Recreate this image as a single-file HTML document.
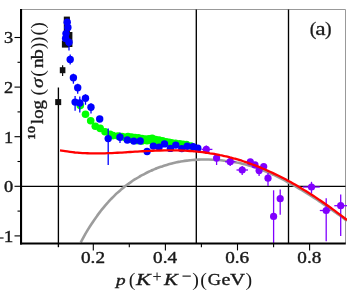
<!DOCTYPE html>
<html><head><meta charset="utf-8"><title>chart</title>
<style>
html,body{margin:0;padding:0;background:#fff;}
body{width:347px;height:292px;overflow:hidden;font-family:"Liberation Serif",serif;}
svg{display:block;will-change:transform;}
text{font-family:"Liberation Serif",serif;fill:#1a1a1a;}
</style></head><body>
<svg width="347" height="292" viewBox="0 0 347 292">
<rect width="347" height="292" fill="#fff"/>
<path d="M21,9.5H345.5V243" fill="none" stroke="#999" stroke-width="1"/>
<g stroke="#000" stroke-width="1.35" fill="none">
<path d="M21,186.4H345.5"/>
<path d="M58.4,87.5V247.2"/>
<path d="M196.3,9.5V243"/>
<path d="M288.5,9.5V243"/>
</g>
<path d="M80.7,242.4 C81.4,241.2 83.4,237.5 84.7,235.1 C86.0,232.8 87.4,230.6 88.7,228.4 C90.0,226.2 91.4,224.2 92.7,222.2 C94.0,220.2 95.4,218.2 96.7,216.4 C98.0,214.5 99.4,212.7 100.7,211.0 C102.0,209.3 103.4,207.7 104.7,206.1 C106.0,204.5 107.4,203.0 108.7,201.5 C110.0,200.1 111.4,198.7 112.7,197.3 C114.0,196.0 115.4,194.7 116.7,193.4 C118.0,192.2 119.4,191.0 120.7,189.9 C122.0,188.7 123.4,187.6 124.7,186.6 C126.0,185.5 127.4,184.5 128.7,183.6 C130.0,182.6 131.4,181.7 132.7,180.8 C134.0,179.9 135.4,179.1 136.7,178.3 C138.0,177.4 139.4,176.7 140.7,175.9 C142.0,175.2 143.4,174.5 144.7,173.8 C146.0,173.1 147.4,172.4 148.7,171.8 C150.0,171.2 151.4,170.6 152.7,170.0 C154.0,169.4 155.4,168.9 156.7,168.3 C158.0,167.8 159.4,167.3 160.7,166.8 C162.0,166.4 163.4,165.9 164.7,165.5 C166.0,165.1 167.4,164.7 168.7,164.3 C170.0,163.9 171.4,163.6 172.7,163.2 C174.0,162.9 175.4,162.6 176.7,162.3 C178.0,162.0 179.4,161.8 180.7,161.5 C182.0,161.3 183.4,161.1 184.7,160.9 C186.0,160.7 187.4,160.5 188.7,160.4 C190.0,160.2 191.4,160.1 192.7,160.0 C194.0,159.9 195.4,159.8 196.7,159.7 C198.0,159.6 199.4,159.6 200.7,159.5 C202.0,159.5 203.4,159.5 204.7,159.5 C206.0,159.5 207.4,159.5 208.7,159.5 C210.0,159.5 211.4,159.6 212.7,159.7 C214.0,159.7 215.4,159.8 216.7,159.9 C218.0,160.0 219.4,160.1 220.7,160.2 C222.0,160.4 223.4,160.5 224.7,160.7 C226.0,160.8 227.4,161.0 228.7,161.2 C230.0,161.4 231.4,161.6 232.7,161.8 C234.0,162.0 235.4,162.2 236.7,162.5 C238.0,162.7 239.4,163.0 240.7,163.3 C242.0,163.6 243.4,163.9 244.7,164.3 C246.0,164.6 247.4,165.0 248.7,165.4 C250.0,165.7 251.4,166.1 252.7,166.6 C254.0,167.0 255.4,167.4 256.7,167.9 C258.0,168.4 259.4,168.9 260.7,169.4 C262.0,169.9 263.4,170.4 264.7,171.0 C266.0,171.5 267.4,172.1 268.7,172.7 C270.0,173.3 271.4,173.9 272.7,174.5 C274.0,175.1 275.4,175.7 276.7,176.4 C278.0,177.0 279.4,177.7 280.7,178.4 C282.0,179.0 283.4,179.7 284.7,180.4 C286.0,181.1 287.4,181.9 288.7,182.6 C290.0,183.3 291.4,184.1 292.7,184.8 C294.0,185.6 295.4,186.3 296.7,187.1 C298.0,187.9 299.4,188.7 300.7,189.5 C302.0,190.3 303.4,191.1 304.7,191.9 C306.0,192.7 307.4,193.6 308.7,194.4 C310.0,195.2 311.4,196.1 312.7,196.9 C314.0,197.8 315.4,198.7 316.7,199.5 C318.0,200.4 319.4,201.3 320.7,202.2 C322.0,203.1 323.4,204.0 324.7,204.9 C326.0,205.8 327.4,206.7 328.7,207.7 C330.0,208.6 331.4,209.5 332.7,210.5 C334.0,211.4 335.4,212.4 336.7,213.3 C338.0,214.3 339.4,215.2 340.7,216.2 C342.0,217.2 343.6,218.3 344.7,219.1 C345.8,219.9 346.6,220.5 347.0,220.8" fill="none" stroke="#9c9c9c" stroke-width="2.6"/>
<g fill="#00ff00">
<circle cx="80.3" cy="105.6" r="3.8"/>
<circle cx="85.5" cy="114.2" r="3.8"/>
<circle cx="90.7" cy="120.8" r="3.8"/>
<circle cx="95.3" cy="126.3" r="3.8"/>
<circle cx="100.2" cy="128.4" r="3.8"/>
<circle cx="105.0" cy="131.8" r="3.8"/>
<circle cx="110.0" cy="134.2" r="3.8"/>
<circle cx="113.0" cy="135.6" r="3.8"/>
<circle cx="118.0" cy="136.0" r="3.8"/>
<circle cx="124.6" cy="137.3" r="3.8"/>
<circle cx="128.0" cy="136.6" r="3.8"/>
<circle cx="131.5" cy="137.0" r="3.8"/>
<circle cx="135.0" cy="137.6" r="3.8"/>
<circle cx="138.4" cy="137.8" r="3.8"/>
<circle cx="142.0" cy="138.6" r="3.8"/>
<circle cx="145.3" cy="139.0" r="3.8"/>
<circle cx="149.0" cy="138.8" r="3.8"/>
<circle cx="152.2" cy="138.4" r="3.8"/>
<circle cx="155.5" cy="139.6" r="3.8"/>
<circle cx="159.0" cy="140.0" r="3.8"/>
<circle cx="162.5" cy="140.8" r="3.8"/>
<circle cx="166.0" cy="141.7" r="3.8"/>
<circle cx="169.0" cy="142.4" r="3.8"/>
<circle cx="171.5" cy="142.8" r="3.8"/>
<circle cx="175.5" cy="143.4" r="3.8"/>
<circle cx="179.6" cy="143.8" r="3.8"/>
<circle cx="183.0" cy="144.2" r="3.8"/>
<circle cx="186.5" cy="144.6" r="3.8"/>
<circle cx="191.0" cy="146.0" r="3.8"/>
<circle cx="122.0" cy="136.5" r="3.8"/>
<circle cx="127.0" cy="138.5" r="3.8"/>
<circle cx="132.0" cy="139.5" r="3.8"/>
<circle cx="137.0" cy="140.6" r="3.8"/>
<circle cx="142.0" cy="140.9" r="3.8"/>
<circle cx="147.0" cy="140.8" r="3.8"/>
<circle cx="152.0" cy="141.0" r="3.8"/>
<circle cx="157.0" cy="142.0" r="3.8"/>
<circle cx="162.0" cy="143.0" r="3.8"/>
</g>
<g fill="#111">
<rect x="63.8" y="16.6" width="6.1" height="24"/>
<rect x="66" y="32" width="6.4" height="15"/>
<rect x="61.9" y="40.6" width="7" height="7"/>
<rect x="59.8" y="67.2" width="5.6" height="6"/>
<rect x="55.2" y="99.1" width="6" height="6"/>
</g>
<path d="M62.6,65.2V76" stroke="#111" stroke-width="1.2"/>
<g stroke="#0000ff" stroke-width="1.3">
<path d="M69.0,42.2V50.5"/>
<path d="M70.2,54.5V64.5"/>
<path d="M73.4,73.7V83.7"/>
<path d="M77.7,83.7V93.7"/>
<path d="M85.5,94.3V104.8"/>
<path d="M75.1,96.1V110.8"/>
<path d="M79.8,96.5V112.5"/>
<path d="M91.0,103.3V113.5"/>
<path d="M108.2,128.4V165.0"/>
<path d="M120.0,132.6V143.0"/>
</g><g fill="#0000ff">
<circle cx="67.2" cy="22.3" r="3.7"/>
<circle cx="67.9" cy="27.5" r="3.7"/>
<circle cx="66.0" cy="33.6" r="3.7"/>
<circle cx="65.6" cy="38.4" r="3.7"/>
<circle cx="69.0" cy="42.2" r="3.7"/>
<circle cx="70.2" cy="59.5" r="3.7"/>
<circle cx="73.4" cy="77.7" r="3.7"/>
<circle cx="77.7" cy="87.7" r="3.7"/>
<circle cx="85.5" cy="98.3" r="3.7"/>
<circle cx="75.1" cy="102.1" r="3.7"/>
<circle cx="79.8" cy="103.0" r="3.7"/>
<circle cx="91.0" cy="107.3" r="3.7"/>
<circle cx="99.7" cy="119.0" r="3.7"/>
<circle cx="108.2" cy="138.6" r="3.7"/>
<circle cx="120.0" cy="137.2" r="3.7"/>
<circle cx="127.3" cy="140.0" r="3.7"/>
<circle cx="133.8" cy="141.1" r="3.7"/>
<circle cx="140.2" cy="141.0" r="3.7"/>
<circle cx="147.1" cy="151.5" r="3.7"/>
<circle cx="153.3" cy="146.1" r="3.7"/>
<circle cx="159.1" cy="147.1" r="3.7"/>
<circle cx="164.5" cy="143.9" r="3.7"/>
<circle cx="170.4" cy="148.4" r="3.7"/>
<circle cx="175.8" cy="145.1" r="3.7"/>
<circle cx="181.8" cy="148.6" r="3.7"/>
<circle cx="187.2" cy="146.2" r="3.7"/>
<circle cx="193.1" cy="146.8" r="3.7"/>
<circle cx="197.8" cy="148.2" r="3.7"/>
</g>
<g stroke="#8000ff" stroke-width="1.3">
<path d="M201.5,149.4H212.4"/>
<path d="M206.3,145.5V154.0"/>
<path d="M216.6,154.0V165.0"/>
<path d="M225.0,161.7H235.5"/>
<path d="M230.2,158.0V166.0"/>
<path d="M236.5,170.0H248.0"/>
<path d="M242.2,166.0V175.0"/>
<path d="M259.1,166.0V176.0"/>
<path d="M268.0,173.0V186.0"/>
<path d="M273.6,190.3V243.5"/>
<path d="M280.2,189.5V214.7"/>
<path d="M302.8,187.0H319.8"/>
<path d="M311.5,181.8V193.6"/>
<path d="M319.8,210.5H330.5"/>
<path d="M326.2,198.2V241.2"/>
<path d="M334.3,205.7H347.0"/>
<path d="M340.7,194.4V236.0"/>
</g><g fill="#8000ff">
<circle cx="206.3" cy="149.4" r="3.6"/>
<circle cx="216.6" cy="158.1" r="3.6"/>
<circle cx="230.2" cy="161.7" r="3.6"/>
<circle cx="242.2" cy="170.0" r="3.6"/>
<circle cx="250.3" cy="161.9" r="3.6"/>
<circle cx="255.0" cy="164.9" r="3.6"/>
<circle cx="259.1" cy="170.6" r="3.6"/>
<circle cx="263.7" cy="166.5" r="3.6"/>
<circle cx="268.0" cy="178.2" r="3.6"/>
<circle cx="273.6" cy="216.4" r="3.6"/>
<circle cx="280.2" cy="198.7" r="3.6"/>
<circle cx="311.5" cy="187.0" r="3.6"/>
<circle cx="326.2" cy="210.5" r="3.6"/>
<circle cx="340.7" cy="205.7" r="3.6"/>
</g>
<path d="M60.0,150.4 C60.8,150.5 63.3,151.0 65.0,151.2 C66.7,151.5 68.3,151.7 70.0,151.9 C71.7,152.1 73.3,152.3 75.0,152.5 C76.7,152.6 78.3,152.8 80.0,152.9 C81.7,153.0 83.3,153.1 85.0,153.2 C86.7,153.2 88.3,153.3 90.0,153.3 C91.7,153.4 93.3,153.4 95.0,153.4 C96.7,153.4 98.3,153.4 100.0,153.4 C101.7,153.4 103.3,153.3 105.0,153.3 C106.7,153.2 108.3,153.2 110.0,153.1 C111.7,153.1 113.3,153.0 115.0,152.9 C116.7,152.8 118.3,152.7 120.0,152.6 C121.7,152.6 123.3,152.5 125.0,152.4 C126.7,152.3 128.3,152.1 130.0,152.0 C131.7,151.9 133.3,151.8 135.0,151.7 C136.7,151.6 138.3,151.5 140.0,151.4 C141.7,151.3 143.3,151.2 145.0,151.1 C146.7,151.0 148.3,150.9 150.0,150.9 C151.7,150.8 153.3,150.7 155.0,150.6 C156.7,150.6 158.3,150.5 160.0,150.5 C161.7,150.4 163.3,150.4 165.0,150.4 C166.7,150.4 168.3,150.3 170.0,150.3 C171.7,150.3 173.3,150.4 175.0,150.4 C176.7,150.4 178.3,150.5 180.0,150.5 C181.7,150.6 183.3,150.6 185.0,150.7 C186.7,150.8 188.3,150.9 190.0,151.0 C191.7,151.1 193.3,151.3 195.0,151.4 C196.7,151.6 198.3,151.7 200.0,151.9 C201.7,152.1 203.3,152.3 205.0,152.5 C206.7,152.8 208.3,153.0 210.0,153.3 C211.7,153.5 213.3,153.8 215.0,154.1 C216.7,154.4 218.3,154.7 220.0,155.1 C221.7,155.4 223.3,155.8 225.0,156.2 C226.7,156.5 228.3,156.9 230.0,157.4 C231.7,157.8 233.3,158.3 235.0,158.7 C236.7,159.2 238.3,159.7 240.0,160.2 C241.7,160.7 243.3,161.3 245.0,161.8 C246.7,162.4 248.3,163.0 250.0,163.6 C251.7,164.2 253.3,164.8 255.0,165.4 C256.7,166.1 258.3,166.7 260.0,167.4 C261.7,168.1 263.3,168.8 265.0,169.5 C266.7,170.2 268.3,171.0 270.0,171.7 C271.7,172.5 273.3,173.3 275.0,174.1 C276.7,174.9 278.3,175.7 280.0,176.5 C281.7,177.4 283.3,178.2 285.0,179.1 C286.7,180.0 288.3,180.9 290.0,181.8 C291.7,182.7 293.3,183.7 295.0,184.6 C296.7,185.6 298.3,186.5 300.0,187.5 C301.7,188.5 303.3,189.5 305.0,190.6 C306.7,191.6 308.3,192.6 310.0,193.7 C311.7,194.8 313.3,195.8 315.0,196.9 C316.7,198.0 318.3,199.2 320.0,200.3 C321.7,201.4 323.3,202.6 325.0,203.7 C326.7,204.9 328.3,206.1 330.0,207.3 C331.7,208.5 333.3,209.7 335.0,210.9 C336.7,212.2 338.3,213.4 340.0,214.7 C341.7,216.0 343.8,217.6 345.0,218.5 C346.2,219.4 346.7,219.8 347.0,220.1" fill="none" stroke="#ff0000" stroke-width="2.3"/>
<g stroke="#000" fill="none">
<path d="M21.05,9V244.5" stroke-width="2.1"/>
<path d="M20,243.45H345.8" stroke-width="2.0"/>
<path d="M14.5,235.9H21" stroke-width="1.1"/>
<path d="M14.5,186.3H21" stroke-width="1.1"/>
<path d="M14.5,136.7H21" stroke-width="1.1"/>
<path d="M14.5,87.1H21" stroke-width="1.1"/>
<path d="M14.5,37.5H21" stroke-width="1.1"/>
<path d="M17.5,211.1H21" stroke-width="1.1"/>
<path d="M17.5,161.5H21" stroke-width="1.1"/>
<path d="M17.5,111.9H21" stroke-width="1.1"/>
<path d="M17.5,62.3H21" stroke-width="1.1"/>
<path d="M93.3,243V250.4" stroke-width="1.1"/>
<path d="M165.4,243V250.4" stroke-width="1.1"/>
<path d="M237.5,243V250.4" stroke-width="1.1"/>
<path d="M309.6,243V250.4" stroke-width="1.1"/>
<path d="M129.3,243V247.2" stroke-width="1.1"/>
<path d="M201.4,243V247.2" stroke-width="1.1"/>
<path d="M273.6,243V247.2" stroke-width="1.1"/>
</g>
<text transform="translate(8.70,43.40) scale(1.150,1)" font-size="16" text-anchor="middle" stroke="#1a1a1a" stroke-width="0.4">3</text>
<text transform="translate(8.70,93.00) scale(1.150,1)" font-size="16" text-anchor="middle" stroke="#1a1a1a" stroke-width="0.4">2</text>
<text transform="translate(8.70,142.60) scale(1.150,1)" font-size="16" text-anchor="middle" stroke="#1a1a1a" stroke-width="0.4">1</text>
<text transform="translate(8.70,192.20) scale(1.150,1)" font-size="16" text-anchor="middle" stroke="#1a1a1a" stroke-width="0.4">0</text>
<text transform="translate(8.60,241.80) scale(1.200,1)" font-size="16" text-anchor="middle" stroke="#1a1a1a" stroke-width="0.4">1</text>
<path d="M0,238.0H3.6" stroke="#1a1a1a" stroke-width="1.2"/>
<text transform="translate(93.00,263.10) scale(1.200,1)" font-size="16" text-anchor="middle" stroke="#1a1a1a" stroke-width="0.4">0.2</text>
<text transform="translate(165.10,263.10) scale(1.200,1)" font-size="16" text-anchor="middle" stroke="#1a1a1a" stroke-width="0.4">0.4</text>
<text transform="translate(237.20,263.10) scale(1.200,1)" font-size="16" text-anchor="middle" stroke="#1a1a1a" stroke-width="0.4">0.6</text>
<text transform="translate(309.30,263.10) scale(1.200,1)" font-size="16" text-anchor="middle" stroke="#1a1a1a" stroke-width="0.4">0.8</text>
<text transform="translate(120.90,285.20) scale(1.280,1)" font-size="15" text-anchor="middle" font-style="italic" stroke="#1a1a1a" stroke-width="0.35">p</text>
<text transform="translate(132.00,286.10) scale(1.050,1)" font-size="19" text-anchor="middle">(</text>
<text transform="translate(143.40,285.20) scale(1.380,1)" font-size="16" text-anchor="middle" font-style="italic" stroke="#1a1a1a" stroke-width="0.35">K</text>
<text transform="translate(171.00,285.20) scale(1.300,1)" font-size="16" text-anchor="middle" font-style="italic" stroke="#1a1a1a" stroke-width="0.35">K</text>
<text transform="translate(195.60,286.10) scale(1.050,1)" font-size="19" text-anchor="middle">)</text>
<text transform="translate(203.50,286.10) scale(1.050,1)" font-size="19" text-anchor="middle">(</text>
<text transform="translate(214.30,285.20) scale(1.150,1)" font-size="16" text-anchor="middle" stroke="#1a1a1a" stroke-width="0.35">G</text>
<text transform="translate(226.00,285.20) scale(1.250,1)" font-size="16" text-anchor="middle" stroke="#1a1a1a" stroke-width="0.35">e</text>
<text transform="translate(237.60,285.20) scale(1.300,1)" font-size="16" text-anchor="middle" stroke="#1a1a1a" stroke-width="0.35">V</text>
<text transform="translate(248.70,286.10) scale(1.050,1)" font-size="19" text-anchor="middle">)</text>
<path d="M153.2,276.4H160.9M157.05,272.5V280.4M182.5,276.1H190.8" stroke="#2a2a2a" stroke-width="1.05" fill="none"/>
<g transform="translate(42.8,139.6) rotate(-90)">
<text transform="translate(6.60,-7.60) scale(1.450,1)" font-size="9.5" text-anchor="middle" stroke="#1a1a1a" stroke-width="0.4">10</text>
<text transform="translate(27.60,0.00) scale(1.170,1)" font-size="16" text-anchor="middle" stroke="#1a1a1a" stroke-width="0.35">log</text>
<text transform="translate(47.40,0.90) scale(1.050,1)" font-size="19" text-anchor="middle">(</text>
<text transform="translate(56.50,0.00) scale(1.250,1)" font-size="16" text-anchor="middle" font-style="italic" stroke="#1a1a1a" stroke-width="0.35">σ</text>
<text transform="translate(66.20,0.90) scale(1.050,1)" font-size="19" text-anchor="middle">(</text>
<text transform="translate(76.40,0.00) scale(1.200,1)" font-size="16" text-anchor="middle" stroke="#1a1a1a" stroke-width="0.35">n</text>
<text transform="translate(85.40,0.00) scale(1.250,1)" font-size="16" text-anchor="middle" stroke="#1a1a1a" stroke-width="0.35">b</text>
<text transform="translate(93.70,0.90) scale(1.050,1)" font-size="19" text-anchor="middle">)</text>
<text transform="translate(99.70,0.90) scale(1.050,1)" font-size="19" text-anchor="middle">)</text>
<text transform="translate(107.40,0.90) scale(1.050,1)" font-size="19" text-anchor="middle">(</text>
<text transform="translate(114.10,0.90) scale(1.050,1)" font-size="19" text-anchor="middle">)</text>
</g>
<text transform="translate(313.00,35.00) scale(1.100,1)" font-size="18" text-anchor="middle" stroke="#1a1a1a" stroke-width="0.25">(</text>
<text transform="translate(320.50,35.00) scale(1.300,1)" font-size="18" text-anchor="middle" stroke="#1a1a1a" stroke-width="0.25">a</text>
<text transform="translate(328.40,35.00) scale(1.100,1)" font-size="18" text-anchor="middle" stroke="#1a1a1a" stroke-width="0.25">)</text>
</svg></body></html>
